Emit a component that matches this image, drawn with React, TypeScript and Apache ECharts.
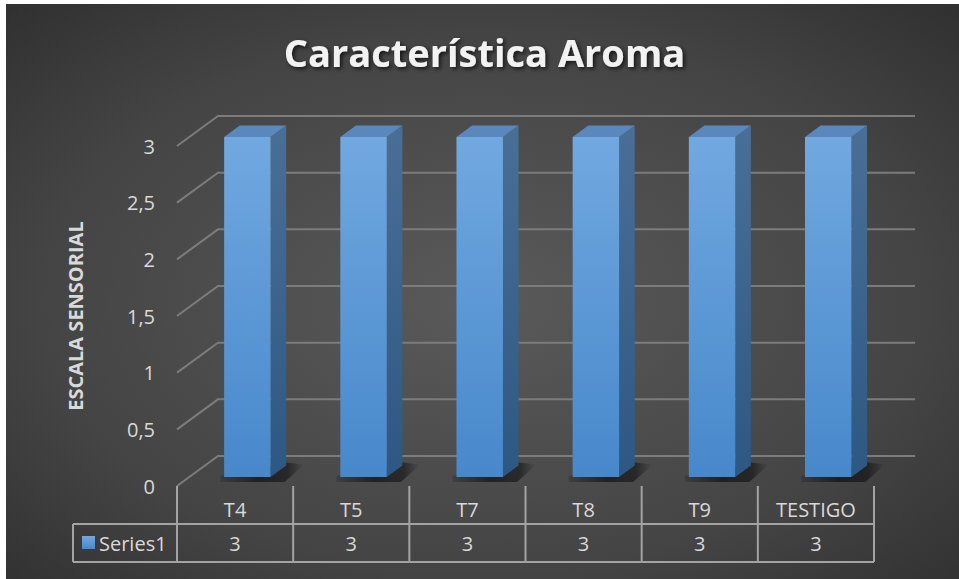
import React, { useEffect, useRef } from "react";
import * as echarts from "echarts";

const categories = ["T4", "T5", "T7", "T8", "T9", "TESTIGO"];
const series1 = [3, 3, 3, 3, 3, 3];
const yTicks = [0, 0.5, 1, 1.5, 2, 2.5, 3];
const seriesName = "Series1";
const chartTitle = "Característica Aroma";
const yAxisTitle = "ESCALA SENSORIAL";

// Oblique projection of the floor depth (front edge -> back wall)
const DX = 41;
const DY = -30;
// Bars sit between these depth fractions
const BAR_NEAR = 0.3;
const BAR_FAR = 0.68;
// Bar width as a share of a category band
const BAR_RATIO = 0.4;

const FONT = "'Open Sans', 'Noto Sans', sans-serif";
const TEXT = "#d9d9d9";
const GRID_LINE = "#7c7c7c";
const TABLE_LINE = "#a3a3a3";

const fmt = (v: number) => String(v).replace(".", ",");

export default function App() {
  const ref = useRef<HTMLDivElement>(null);

  useEffect(() => {
    const chart = echarts.init(ref.current!, null, { renderer: "svg" });
    const W = 959;
    const H = 579;
    const gridLeft = 177;
    const gridRight = 874;
    const gridTop = 146;
    const gridBottom = 486;
    const tableMid = 524;
    const tableBottom = 562;
    const tableLeft = 73;

    const line = (x1: number, y1: number, x2: number, y2: number, color = TABLE_LINE, w = 2) => ({
      type: "line",
      shape: { x1, y1, x2, y2 },
      style: { stroke: color, lineWidth: w },
      silent: true,
    });

    chart.setOption({
      animation: false,
      graphic: [
        {
          type: "rect",
          z: -10,
          silent: true,
          shape: { x: 6, y: 4, width: W - 6, height: H - 4 },
          style: {
            fill: new echarts.graphic.RadialGradient(0.5, 0.52, 0.85, [
              { offset: 0, color: "#5a5a5a" },
              { offset: 0.55, color: "#444444" },
              { offset: 1, color: "#262626" },
            ]),
          },
        },
        {
          type: "text",
          z: 10,
          silent: true,
          style: {
            text: chartTitle,
            x: 484.5,
            y: 52,
            align: "center",
            verticalAlign: "middle",
            fill: "#f2f2f2",
            font: `bold 38px ${FONT}`,
            textShadowColor: "rgba(0,0,0,0.7)",
            textShadowBlur: 4,
            textShadowOffsetX: 2,
            textShadowOffsetY: 2,
          },
        },
      ],
      grid: {
        left: gridLeft,
        right: W - gridRight,
        top: gridTop,
        bottom: H - gridBottom,
        containLabel: false,
      },
      xAxis: {
        type: "category",
        data: categories,
        axisLine: { show: false },
        axisTick: { show: false },
        splitLine: { show: false },
        axisLabel: {
          margin: 23,
          verticalAlign: "middle",
          color: TEXT,
          fontSize: 20,
          fontFamily: FONT,
        },
      },
      yAxis: {
        type: "value",
        min: 0,
        max: 3,
        interval: 0.5,
        axisLine: { show: false },
        axisTick: { show: false },
        splitLine: { show: false },
        axisLabel: {
          margin: 22,
          color: TEXT,
          fontSize: 20,
          fontFamily: FONT,
          formatter: (v: number) => fmt(v),
        },
        name: yAxisTitle,
        nameLocation: "middle",
        nameRotate: 90,
        nameGap: 92,
        nameTextStyle: {
          color: TEXT,
          fontSize: 20,
          fontWeight: "bold",
          fontFamily: FONT,
        },
      },
      series: [
        {
          // Side-wall diagonals and back-wall gridlines
          type: "custom",
          z: 1,
          silent: true,
          clip: false,
          data: yTicks.map((t) => [0, t]),
          encode: { x: 0, y: 1 },
          renderItem: (params: any, api: any) => {
            const v = api.value(1);
            const bw = api.size([1, 0])[0];
            const p = api.coord([0, v]);
            const xl = p[0] - bw / 2;
            const xr = xl + categories.length * bw;
            const y = p[1];
            return {
              type: "polyline",
              shape: { points: [[xl, y], [xl + DX, y + DY], [xr + DX, y + DY]] },
              style: { stroke: GRID_LINE, lineWidth: 2, fill: null },
            };
          },
        },
        {
          // 3D bars
          name: seriesName,
          type: "custom",
          z: 3,
          silent: true,
          clip: false,
          data: series1.map((v, i) => [i, v]),
          encode: { x: 0, y: 1 },
          renderItem: (params: any, api: any) => {
            const c = api.coord([api.value(0), api.value(1)]);
            const base = api.coord([api.value(0), 0]);
            const bw = api.size([1, 0])[0];
            const w = bw * BAR_RATIO;
            const nx = DX * BAR_NEAR;
            const ny = DY * BAR_NEAR;
            const fx = DX * (BAR_FAR - BAR_NEAR);
            const fy = DY * (BAR_FAR - BAR_NEAR);
            const x0 = c[0] - w / 2 + nx;
            const x1 = c[0] + w / 2 + nx;
            const yT = c[1] + ny;
            const yB = base[1] + ny;
            return {
              type: "group",
              children: [
                {
                  // soft cast shadow on the floor
                  type: "polygon",
                  shape: {
                    points: [
                      [x0 - 4, yB - 1],
                      [x1 + fx, yB + fy - 3],
                      [x1 + fx + 18, yB + fy - 1],
                      [x1 + 14, yB + 5],
                      [x0 - 4, yB + 5],
                    ],
                  },
                  style: {
                    fill: new echarts.graphic.LinearGradient(0, 0, 1, 0, [
                      { offset: 0, color: "rgba(0,0,0,0.15)" },
                      { offset: 0.45, color: "rgba(0,0,0,0.55)" },
                      { offset: 0.8, color: "rgba(0,0,0,0.45)" },
                      { offset: 1, color: "rgba(0,0,0,0)" },
                    ]),
                  },
                },
                {
                  type: "polygon",
                  shape: { points: [[x1, yT], [x1 + fx, yT + fy], [x1 + fx, yB + fy], [x1, yB]] },
                  style: {
                    fill: new echarts.graphic.LinearGradient(0, 0, 0, 1, [
                      { offset: 0, color: "#4a6f96" },
                      { offset: 1, color: "#2d5883" },
                    ]),
                  },
                },
                {
                  type: "polygon",
                  shape: { points: [[x0, yT], [x1, yT], [x1 + fx, yT + fy], [x0 + fx, yT + fy]] },
                  style: { fill: "#5a88bd" },
                },
                {
                  type: "rect",
                  shape: { x: x0, y: yT, width: x1 - x0, height: yB - yT },
                  style: {
                    fill: new echarts.graphic.LinearGradient(0, 0, 0, 1, [
                      { offset: 0, color: "#71a8e0" },
                      { offset: 1, color: "#4788cb" },
                    ]),
                  },
                },
              ],
            };
          },
        },
        {
          // Data table under the plot
          type: "custom",
          z: 3,
          silent: true,
          clip: false,
          data: series1.map((v, i) => [i, v]),
          encode: { x: 0, y: 1 },
          renderItem: (params: any, api: any) => {
            const i = api.value(0);
            const v = api.value(1);
            const bw = api.size([1, 0])[0];
            const p = api.coord([i, 0]);
            const l = p[0] - bw / 2;
            const r = p[0] + bw / 2;
            const top = p[1];
            const children: any[] = [
              line(l, top, l, tableBottom),
              line(l, tableMid, r, tableMid),
              line(l, tableBottom, r, tableBottom),
              {
                type: "text",
                style: {
                  text: fmt(v),
                  x: p[0],
                  y: (tableMid + tableBottom) / 2,
                  align: "center",
                  verticalAlign: "middle",
                  fill: TEXT,
                  font: `20px ${FONT}`,
                },
              },
            ];
            if (i === categories.length - 1) {
              children.push(line(r, top, r, tableBottom));
            }
            if (i === 0) {
              children.push(
                line(tableLeft, tableMid, l, tableMid),
                line(tableLeft, tableBottom, l, tableBottom),
                line(tableLeft, tableMid, tableLeft, tableBottom),
                {
                  type: "rect",
                  shape: { x: 82, y: 536, width: 13, height: 13 },
                  style: {
                    fill: new echarts.graphic.LinearGradient(0, 0, 0, 1, [
                      { offset: 0, color: "#71a8e0" },
                      { offset: 1, color: "#4788cb" },
                    ]),
                  },
                },
                {
                  type: "text",
                  style: {
                    text: seriesName,
                    x: 99,
                    y: (tableMid + tableBottom) / 2,
                    align: "left",
                    verticalAlign: "middle",
                    fill: TEXT,
                    font: `20px ${FONT}`,
                  },
                }
              );
            }
            return { type: "group", children };
          },
        },
      ],
    });

    return () => chart.dispose();
  }, []);

  return (
    <div style={{ position: "fixed", left: 0, top: 0, width: 959, height: 579, background: "#ffffff" }}>
      <div ref={ref} style={{ width: 959, height: 579 }} />
    </div>
  );
}
